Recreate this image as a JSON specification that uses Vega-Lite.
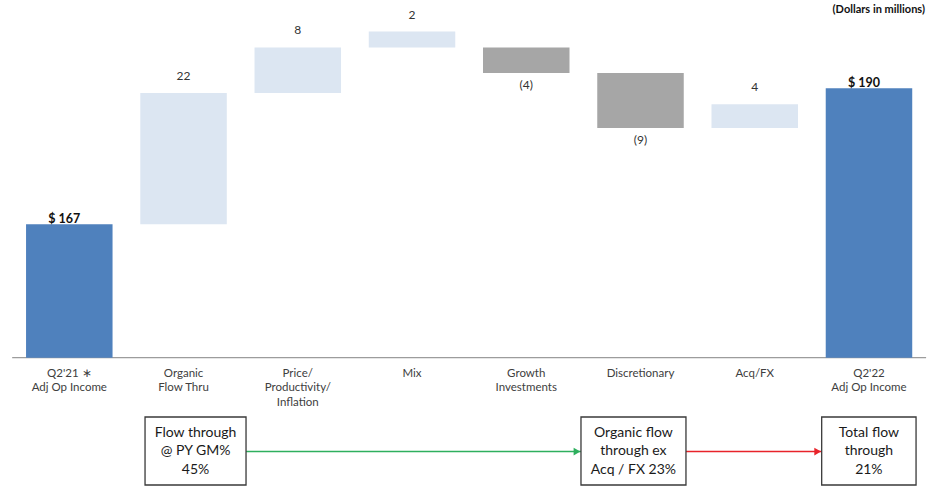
{
  "$schema": "https://vega.github.io/schema/vega-lite/v6.json",
  "width": 928,
  "height": 488,
  "autosize": {"type": "fit", "contains": "padding"},
  "padding": 0,
  "background": "white",
  "config": {"view": {"stroke": null}, "font": "Lato", "text": {"font": "Lato"}, "scale": {"continuousPadding": 0}},
  "resolve": {"scale": {"color": "independent"}},
  "datasets": {
    "steps": [
      {"idx": 0, "start": 144.44, "end": 167, "type": "total", "label": "$ 167", "lines": "Q2'21 ∗\nAdj Op Income"},
      {"idx": 1, "start": 167, "end": 189.2, "type": "increase", "label": "22", "lines": "Organic\nFlow Thru"},
      {"idx": 2, "start": 189.2, "end": 196.9, "type": "increase", "label": "8", "lines": "Price/\nProductivity/\nInflation"},
      {"idx": 3, "start": 196.9, "end": 199.6, "type": "increase", "label": "2", "lines": "Mix"},
      {"idx": 4, "start": 196.9, "end": 192.6, "type": "decrease", "label": "(4)", "lines": "Growth\nInvestments"},
      {"idx": 5, "start": 192.6, "end": 183.3, "type": "decrease", "label": "(9)", "lines": "Discretionary"},
      {"idx": 6, "start": 183.3, "end": 187.3, "type": "increase", "label": "4", "lines": "Acq/FX"},
      {"idx": 7, "start": 144.44, "end": 190, "type": "total", "label": "$ 190", "lines": "Q2'22\nAdj Op Income"}
    ],
    "boxes": [
      {"x0": 0.663, "x1": 1.547, "xc": 1.105, "text": "Flow through\n@ PY GM%\n45%"},
      {"x0": 4.479, "x1": 5.398, "xc": 4.938, "text": "Organic flow\nthrough ex\nAcq / FX 23%"},
      {"x0": 6.586, "x1": 7.412, "xc": 6.999, "text": "Total flow\nthrough\n21%"}
    ],
    "arrows": [
      {"kind": "organic", "from": 1.547, "to": 4.479},
      {"kind": "total", "from": 5.398, "to": 6.586}
    ],
    "notes": [
      {"text": "(Dollars in millions)", "x": 7.49, "y": 203.2}
    ]
  },
  "layer": [
    {
      "data": {"values": [{"a": -0.5, "b": 7.5, "base": 144.44}]},
      "mark": {"type": "rule", "color": "#9c9c9c", "strokeWidth": 1.3},
      "encoding": {
        "x": {"field": "a", "type": "quantitative", "axis": null, "scale": {"domain": [-0.6066, 7.5166], "nice": false, "zero": false, "padding": 0}},
        "x2": {"field": "b"},
        "y": {"field": "base", "type": "quantitative", "axis": null, "scale": {"domain": [122.4, 204.93], "nice": false, "zero": false, "padding": 0}}
      }
    },
    {
      "data": {"name": "steps"},
      "mark": {"type": "bar", "width": 86.5},
      "encoding": {
        "x": {"field": "idx", "type": "quantitative", "axis": null, "scale": {"domain": [-0.6066, 7.5166], "nice": false, "zero": false, "padding": 0}},
        "y": {"field": "end", "type": "quantitative", "axis": null, "scale": {"domain": [122.4, 204.93], "nice": false, "zero": false, "padding": 0}},
        "y2": {"field": "start"},
        "color": {"field": "type", "type": "nominal", "legend": null, "scale": {"domain": ["total", "increase", "decrease"], "range": ["#4F81BD", "#DCE6F2", "#A6A6A6"]}}
      }
    },
    {
      "data": {"name": "steps"},
      "transform": [{"filter": "datum.type == 'increase'"}],
      "mark": {"type": "text", "baseline": "bottom", "dy": -10, "fontSize": 12, "color": "#333333"},
      "encoding": {
        "x": {"field": "idx", "type": "quantitative", "axis": null, "scale": {"domain": [-0.6066, 7.5166], "nice": false, "zero": false, "padding": 0}},
        "y": {"field": "end", "type": "quantitative", "axis": null, "scale": {"domain": [122.4, 204.93], "nice": false, "zero": false, "padding": 0}},
        "text": {"field": "label"}
      }
    },
    {
      "data": {"name": "steps"},
      "transform": [{"filter": "datum.type == 'decrease'"}],
      "mark": {"type": "text", "baseline": "top", "dy": 7, "fontSize": 12, "color": "#333333"},
      "encoding": {
        "x": {"field": "idx", "type": "quantitative", "axis": null, "scale": {"domain": [-0.6066, 7.5166], "nice": false, "zero": false, "padding": 0}},
        "y": {"field": "end", "type": "quantitative", "axis": null, "scale": {"domain": [122.4, 204.93], "nice": false, "zero": false, "padding": 0}},
        "text": {"field": "label"}
      }
    },
    {
      "data": {"name": "steps"},
      "transform": [{"filter": "datum.type == 'total'"}],
      "mark": {"type": "text", "baseline": "alphabetic", "dy": -1, "dx": -5, "fontSize": 12.5, "fontWeight": "bold", "color": "#111111"},
      "encoding": {
        "x": {"field": "idx", "type": "quantitative", "axis": null, "scale": {"domain": [-0.6066, 7.5166], "nice": false, "zero": false, "padding": 0}},
        "y": {"field": "end", "type": "quantitative", "axis": null, "scale": {"domain": [122.4, 204.93], "nice": false, "zero": false, "padding": 0}},
        "text": {"field": "label"}
      }
    },
    {
      "data": {"name": "steps"},
      "mark": {"type": "text", "baseline": "top", "dy": 10, "fontSize": 11.5, "lineHeight": 14.5, "lineBreak": "\n", "color": "#404040"},
      "encoding": {
        "x": {"field": "idx", "type": "quantitative", "axis": null, "scale": {"domain": [-0.6066, 7.5166], "nice": false, "zero": false, "padding": 0}},
        "y": {"datum": 144.44, "type": "quantitative", "axis": null, "scale": {"domain": [122.4, 204.93], "nice": false, "zero": false, "padding": 0}},
        "text": {"field": "lines"}
      }
    },
    {
      "data": {"name": "notes"},
      "mark": {"type": "text", "align": "right", "baseline": "middle", "fontSize": 11, "fontWeight": "bold", "color": "#111111"},
      "encoding": {
        "x": {"field": "x", "type": "quantitative", "axis": null, "scale": {"domain": [-0.6066, 7.5166], "nice": false, "zero": false, "padding": 0}},
        "y": {"field": "y", "type": "quantitative", "axis": null, "scale": {"domain": [122.4, 204.93], "nice": false, "zero": false, "padding": 0}},
        "text": {"field": "text"}
      }
    },
    {
      "data": {"name": "arrows"},
      "mark": {"type": "rule", "strokeWidth": 1.5},
      "encoding": {
        "x": {"field": "from", "type": "quantitative", "axis": null, "scale": {"domain": [-0.6066, 7.5166], "nice": false, "zero": false, "padding": 0}},
        "x2": {"field": "to"},
        "y": {"datum": 128.57, "type": "quantitative", "axis": null, "scale": {"domain": [122.4, 204.93], "nice": false, "zero": false, "padding": 0}},
        "color": {"field": "kind", "type": "nominal", "legend": null, "scale": {"domain": ["organic", "total"], "range": ["#2EAF5E", "#E8232A"]}}
      }
    },
    {
      "data": {"name": "arrows"},
      "mark": {"type": "point", "shape": "triangle-right", "filled": true, "size": 60, "opacity": 1, "xOffset": -4},
      "encoding": {
        "x": {"field": "to", "type": "quantitative", "axis": null, "scale": {"domain": [-0.6066, 7.5166], "nice": false, "zero": false, "padding": 0}},
        "y": {"datum": 128.57, "type": "quantitative", "axis": null, "scale": {"domain": [122.4, 204.93], "nice": false, "zero": false, "padding": 0}},
        "color": {"field": "kind", "type": "nominal", "legend": null, "scale": {"domain": ["organic", "total"], "range": ["#2EAF5E", "#E8232A"]}}
      }
    },
    {
      "data": {"name": "boxes"},
      "mark": {"type": "rect", "fill": "white", "stroke": "#3a3a3a", "strokeWidth": 1.3},
      "encoding": {
        "x": {"field": "x0", "type": "quantitative", "axis": null, "scale": {"domain": [-0.6066, 7.5166], "nice": false, "zero": false, "padding": 0}},
        "x2": {"field": "x1"},
        "y": {"datum": 134.41, "type": "quantitative", "axis": null, "scale": {"domain": [122.4, 204.93], "nice": false, "zero": false, "padding": 0}},
        "y2": {"datum": 122.91}
      }
    },
    {
      "data": {"name": "boxes"},
      "mark": {"type": "text", "baseline": "top", "fontSize": 14, "lineHeight": 18.5, "lineBreak": "\n", "color": "#1a1a1a"},
      "encoding": {
        "x": {"field": "xc", "type": "quantitative", "axis": null, "scale": {"domain": [-0.6066, 7.5166], "nice": false, "zero": false, "padding": 0}},
        "y": {"datum": 132.9, "type": "quantitative", "axis": null, "scale": {"domain": [122.4, 204.93], "nice": false, "zero": false, "padding": 0}},
        "text": {"field": "text"}
      }
    }
  ]
}
